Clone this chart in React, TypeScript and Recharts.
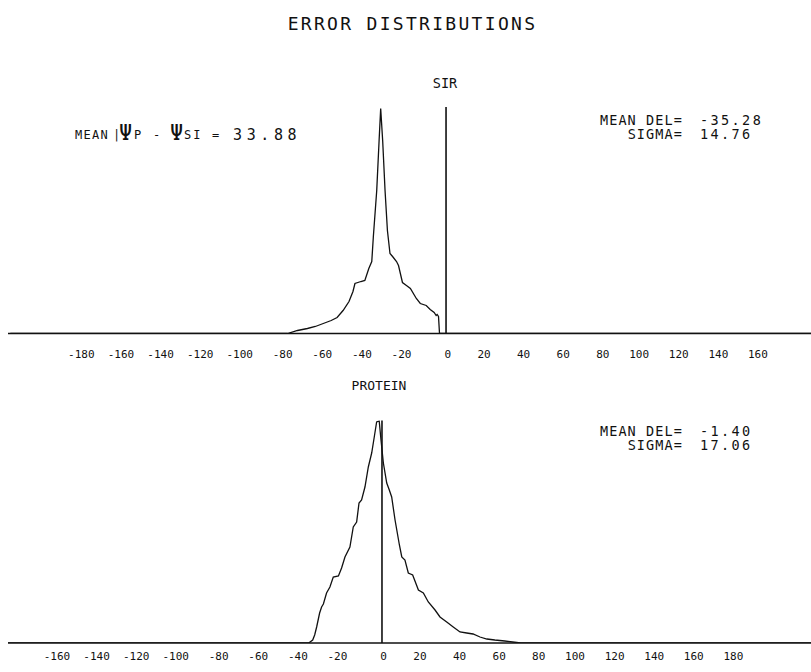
import { LineChart, Line, XAxis, YAxis, ReferenceLine } from 'recharts';

// error (degrees) vs. count
const sirDelta = [-220, -80, -75, -70, -66, -62, -58, -55, -52, -49, -47, -46, -43, -41, -39, -37.5, -36.7, -35, -33.8, -33, -32, -30.8, -29.6, -28.3, -27, -25, -24, -22, -20, -18, -15, -13, -10, -8, -6, -5, -4.5, -3.8, -3.3, 185];
const sirCount = [0, 0, 3, 5, 7, 10, 13, 16, 23, 32, 42, 50, 52, 53, 65, 72, 97, 143, 193, 225, 193, 143, 103, 80, 77, 72, 68, 51, 48, 45, 35, 30, 28, 24, 21, 18, 19, 17, 0, 0];
const sirTicks = [-180, -160, -140, -120, -100, -80, -60, -40, -20, 0, 20, 40, 60, 80, 100, 120, 140, 160];

const proteinDelta = [-189, -37, -35, -34, -33, -31.5, -30.5, -29.6, -28, -26.3, -24.6, -22, -20.4, -18.7, -16.2, -14.5, -12.8, -11.6, -10.3, -8.6, -6.9, -5.2, -3.9, -2.7, -1.4, -0.5, 0.7, 2.4, 3.7, 4.9, 6.6, 8.8, 10, 11.6, 13.3, 15.5, 18.4, 20.9, 23.4, 26.8, 29.3, 32.7, 36, 39.4, 42.8, 46, 49.5, 53, 57, 62, 66, 70, 217];
const proteinCount = [0, 0, 3, 8, 16, 30, 36, 39, 50, 56, 66, 67, 75, 86, 96, 116, 121, 140, 143, 156, 176, 190, 206, 221, 222, 203, 180, 160, 153, 146, 123, 98, 86, 83, 70, 68, 53, 50, 41, 33, 26, 21, 16, 11, 10, 9, 6, 4, 3, 2, 1, 0, 0];
const proteinTicks = [-160, -140, -120, -100, -80, -60, -40, -20, 0, 20, 40, 60, 80, 100, 120, 140, 160, 180];

const FONT = '"DejaVu Sans Mono", monospace';
const INK = '#111';

function AxisTick({ x, y, payload, dy }: any) {
  return (
    <text x={x + 5} y={y + dy} textAnchor="end" fontFamily={FONT} fontSize={11} fill={INK}>
      {payload.value}
    </text>
  );
}

interface DistProps {
  xs: number[];
  ys: number[];
  ticks: number[];
  domain: [number, number];
  yMax: number;
  height: number;
  top: number;
  axisHeight: number;
  labelDy: number;
}

function DistChart({ xs, ys, ticks, domain, yMax, height, top, axisHeight, labelDy }: DistProps) {
  const data = xs.map((x, i) => ({ delta: x, count: ys[i] }));
  return (
    <div style={{ position: 'absolute', left: 0, top: 0 }}>
      <LineChart width={811} height={height} data={data} margin={{ top, right: 0, bottom: 0, left: 8 }}>
        <XAxis
          type="number"
          dataKey="delta"
          domain={domain}
          ticks={ticks}
          interval={0}
          allowDataOverflow
          height={axisHeight}
          tickLine={false}
          tickSize={0}
          tickMargin={0}
          axisLine={{ stroke: INK, strokeWidth: 1.5 }}
          tick={(p: any) => <AxisTick {...p} dy={labelDy} />}
        />
        <YAxis hide domain={[0, yMax]} allowDataOverflow />
        <ReferenceLine x={0} stroke={INK} strokeWidth={1.6} />
        <Line type="linear" dataKey="count" stroke={INK} strokeWidth={1.3} dot={false} isAnimationActive={false} />
      </LineChart>
    </div>
  );
}

function Txt({ x, cy, size, ls = 0, anchor = 'start', children }: any) {
  return (
    <text
      x={x}
      y={cy + size * 0.365}
      fontSize={size}
      fontFamily={FONT}
      textAnchor={anchor}
      fill={INK}
      style={{ letterSpacing: ls }}
    >
      {children}
    </text>
  );
}

export default function App() {
  return (
    <div style={{ position: 'absolute', left: 0, top: 0, width: 811, height: 672, overflow: 'hidden', background: '#fff' }}>
      <DistChart
        xs={sirDelta}
        ys={sirCount}
        ticks={sirTicks}
        domain={[-221.2, 184.3]}
        yMax={226.5}
        height={380}
        top={107}
        axisHeight={46.5}
        labelDy={24.1}
      />
      <DistChart
        xs={proteinDelta}
        ys={proteinCount}
        ticks={proteinTicks}
        domain={[-188.9, 216.7]}
        yMax={222.5}
        height={672}
        top={420.5}
        axisHeight={29}
        labelDy={17}
      />
      <svg width={811} height={672} style={{ position: 'absolute', left: 0, top: 0, pointerEvents: 'none' }}>
        <Txt x={412.5} cy={23.3} size={18} ls={2.3} anchor="middle">ERROR DISTRIBUTIONS</Txt>
        <Txt x={445} cy={83.3} size={13.5} anchor="middle">SIR</Txt>
        <Txt x={379} cy={385} size={13} anchor="middle">PROTEIN</Txt>

        <Txt x={75} cy={134.5} size={12} ls={1.3}>MEAN</Txt>
        <Txt x={113} cy={134.5} size={12}>|</Txt>
        <Txt x={119} cy={132} size={22}>Ψ</Txt>
        <Txt x={134} cy={135} size={12}>P</Txt>
        <Txt x={153} cy={135} size={12}>-</Txt>
        <Txt x={170} cy={132} size={22}>Ψ</Txt>
        <Txt x={184} cy={135} size={12} ls={2}>SI</Txt>
        <Txt x={212} cy={135} size={12}>=</Txt>
        <Txt x={233} cy={135} size={15} ls={4.6}>33.88</Txt>

        <Txt x={683} cy={120} size={13.5} ls={1.1} anchor="end">MEAN DEL=</Txt>
        <Txt x={683} cy={134.5} size={13.5} ls={1.1} anchor="end">SIGMA=</Txt>
        <Txt x={700} cy={120} size={13.5} ls={2.4}>-35.28</Txt>
        <Txt x={700} cy={134.5} size={13.5} ls={2.4}>14.76</Txt>

        <Txt x={683} cy={431} size={13.5} ls={1.1} anchor="end">MEAN DEL=</Txt>
        <Txt x={683} cy={445.5} size={13.5} ls={1.1} anchor="end">SIGMA=</Txt>
        <Txt x={700} cy={431} size={13.5} ls={2.4}>-1.40</Txt>
        <Txt x={700} cy={445.5} size={13.5} ls={2.4}>17.06</Txt>
      </svg>
    </div>
  );
}
